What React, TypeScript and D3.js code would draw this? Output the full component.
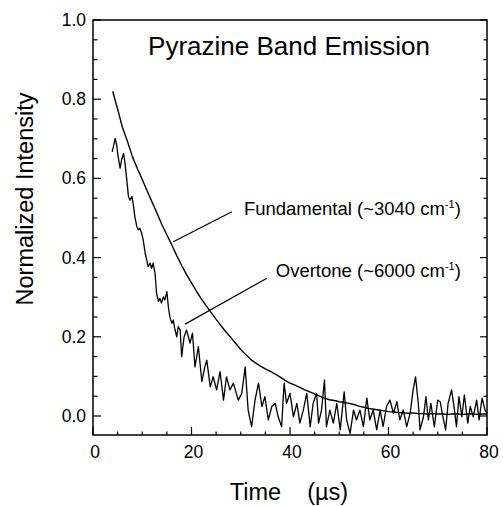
import * as d3 from 'd3'

// Fundamental (~3040 cm-1) decay, [time µs, normalized intensity]
const fundamental: [number, number][] = [
  [4, 0.82], [5, 0.775], [6, 0.728], [7, 0.693], [8, 0.655], [9, 0.625], [10, 0.597],
  [11, 0.568], [12, 0.54], [13, 0.512], [14, 0.483], [15, 0.457], [16, 0.432], [17, 0.405],
  [18, 0.38], [19, 0.357], [20, 0.336], [21, 0.315], [22, 0.296], [23, 0.278], [24, 0.261],
  [25, 0.244], [26, 0.228], [27, 0.212], [28, 0.198], [29, 0.183], [30, 0.168], [31, 0.155],
  [32, 0.143], [33, 0.134], [34, 0.126], [35, 0.119], [36, 0.113], [37, 0.106], [38, 0.098],
  [39, 0.09], [40, 0.083], [41, 0.078], [42, 0.072], [43, 0.066], [44, 0.061], [45, 0.056],
  [46, 0.05], [47, 0.045], [48, 0.041], [49, 0.039], [50, 0.036], [51, 0.034], [52, 0.032],
  [53, 0.029], [54, 0.025], [55, 0.022], [56, 0.019], [57, 0.017], [58, 0.015], [59, 0.013],
  [60, 0.011], [61, 0.01], [62, 0.009], [63, 0.008], [64, 0.007], [65, 0.008], [66, 0.006],
  [67, 0.006], [68, 0.005], [69, 0.006], [70, 0.005], [71, 0.005], [72, 0.004], [73, 0.005],
  [74, 0.005], [75, 0.004], [76, 0.005], [77, 0.005], [78, 0.004], [79, 0.005], [80, 0.005],
]

// Overtone (~6000 cm-1) decay, noisy trace
const overtone: [number, number][] = [
  [3.9, 0.667], [4.5, 0.701], [4.8, 0.684], [5.1, 0.655], [5.5, 0.626], [5.8, 0.646],
  [6.2, 0.663], [6.5, 0.638], [6.8, 0.604], [7.2, 0.554], [7.5, 0.545], [7.9, 0.554],
  [8.2, 0.533], [8.5, 0.503], [8.9, 0.478], [9.2, 0.47], [9.5, 0.474], [9.9, 0.461],
  [10.2, 0.444], [10.6, 0.411], [10.9, 0.394], [11.2, 0.377], [11.6, 0.386], [11.9, 0.373],
  [12.2, 0.386], [12.6, 0.36], [12.9, 0.31], [13.3, 0.289], [13.6, 0.297], [13.9, 0.285],
  [14.3, 0.301], [14.6, 0.293], [15.0, 0.314], [15.3, 0.276], [15.6, 0.251], [16.0, 0.234],
  [16.3, 0.242], [16.6, 0.221], [17.0, 0.2], [17.3, 0.226], [17.7, 0.217], [18.0, 0.15],
  [18.5, 0.2], [19.0, 0.217], [19.7, 0.184], [20.2, 0.209], [20.7, 0.124], [21.4, 0.175],
  [22.1, 0.087], [22.7, 0.124], [23.1, 0.141], [23.8, 0.074], [24.4, 0.099], [25.1, 0.066],
  [25.8, 0.112], [26.5, 0.04], [27.1, 0.099], [27.8, 0.066], [28.5, 0.083], [29.5, 0.04],
  [30.2, 0.057], [30.9, 0.124], [31.5, 0.015], [32.2, -0.027], [32.9, 0.04], [33.6, 0.083],
  [34.3, 0.024], [34.9, 0.049], [35.6, -0.01], [36.3, 0.024], [37.0, 0.032], [37.6, -0.002],
  [38.3, -0.027], [38.8, 0.083], [39.3, 0.032], [40.0, 0.057], [40.7, -0.002], [41.4, 0.032],
  [42.0, -0.018], [42.7, 0.015], [43.4, 0.057], [44.1, -0.027], [44.7, 0.032], [45.4, 0.057],
  [45.8, -0.018], [46.4, 0.015], [47.0, 0.091], [47.4, -0.027], [48.1, 0.015], [48.8, -0.018],
  [49.5, 0.032], [50.2, -0.035], [51.0, 0.061], [51.5, -0.01], [52.2, -0.044], [52.9, 0.015],
  [53.5, -0.01], [54.2, 0.015], [54.9, -0.027], [55.6, 0.045], [56.2, -0.01], [56.9, 0.015],
  [57.6, -0.035], [58.3, 0.015], [58.9, -0.027], [59.6, 0.024], [60.3, 0.04], [61.0, 0.007],
  [61.7, 0.036], [62.3, -0.01], [63.0, 0.015], [63.7, -0.027], [64.4, 0.007], [65.0, 0.066],
  [65.5, 0.099], [66.1, 0.024], [66.4, -0.035], [67.1, -0.002], [67.6, 0.049], [68.1, -0.01],
  [68.6, 0.032], [69.3, -0.027], [70.0, 0.04], [70.5, 0.036], [70.9, 0.007], [71.6, -0.035],
  [72.1, 0.032], [72.8, 0.066], [73.4, 0.015], [73.8, -0.027], [74.3, 0.049], [74.9, -0.002],
  [75.4, 0.053], [76.1, -0.018], [76.6, 0.024], [77.2, -0.002], [77.9, 0.04], [78.4, -0.01],
  [79.0, 0.045], [79.6, 0.015], [80.0, 0.007],
]

const xMajor = [0, 20, 40, 60, 80]
const xMinor = d3.range(0, 81, 5)
const yMajor = [0, 0.2, 0.4, 0.6, 0.8, 1.0]
const yMinor = d3.range(0, 1.001, 0.05)

const W = 503
const H = 506
const FONT = '"Liberation Sans", Arial, Helvetica, sans-serif'

export default function App() {
  const x = d3.scaleLinear().domain([0, 80]).range([93, 487])
  const y = d3.scaleLinear().domain([-0.048, 1.0]).range([435, 20])

  const line = d3.line<[number, number]>().x(d => x(d[0])).y(d => y(d[1]))

  const [x0, x1] = x.range()
  const [yb, yt] = y.range()

  return (
    <svg width={W} height={H} style={{ position: 'absolute', left: 0, top: 0, background: '#fff' }}
      fontFamily={FONT}>
      {/* curves */}
      <path d={line(fundamental) ?? ''} fill="none" stroke="#000" strokeWidth={1.4} strokeLinejoin="round" />
      <path d={line(overtone) ?? ''} fill="none" stroke="#000" strokeWidth={1.3} strokeLinejoin="round" />

      {/* frame */}
      <rect x={x0} y={yt} width={x1 - x0} height={yb - yt} fill="none" stroke="#000" strokeWidth={1.5} />

      {/* y ticks, left and right, pointing in */}
      {yMinor.map(v => {
        const major = yMajor.some(m => Math.abs(m - v) < 1e-6)
        return (
          <g key={'y' + v}>
            <line x1={x0} x2={x0 + (major ? 8 : 4.5)} y1={y(v)} y2={y(v)} stroke="#000" strokeWidth={1.2} />
            <line x1={x1} x2={x1 - (major ? 7 : 3.5)} y1={y(v)} y2={y(v)} stroke="#000" strokeWidth={1.2} />
          </g>
        )
      })}
      {yMajor.map(v => (
        <text key={'yl' + v} x={x0 - 7} y={y(v) + 6} textAnchor="end" fontSize={17.5}>
          {v.toFixed(1)}
        </text>
      ))}

      {/* x ticks, pointing up */}
      {xMinor.map(t => {
        const major = xMajor.includes(t)
        return <line key={'x' + t} x1={x(t)} x2={x(t)} y1={yb} y2={yb - (major ? 8 : 3.5)} stroke="#000" strokeWidth={1.2} />
      })}
      {xMajor.map(t => (
        <text key={'xl' + t} x={x(t) + 2} y={yb + 23} textAnchor="middle" fontSize={17.5}>
          {t}
        </text>
      ))}

      {/* title and axis titles */}
      <text x={289} y={55} textAnchor="middle" fontSize={26}>Pyrazine Band Emission</text>
      <text x={289} y={500} textAnchor="middle" fontSize={23.5} xmlSpace="preserve">Time    (µs)</text>
      <text transform={`translate(33,${(yt + 305 + 93 - yt) / 2 + 0}) rotate(-90)`} textAnchor="middle" fontSize={23.5}>
        Normalized Intensity
      </text>

      {/* annotations */}
      <line x1={x(28.2)} y1={y(0.516)} x2={x(16.3)} y2={y(0.44)} stroke="#000" strokeWidth={1.2} />
      <text x={x(74.7)} y={y(0.508)} textAnchor="end" fontSize={18.5}>
        Fundamental (~3040 cm<tspan fontSize={11} dy={-7}>-1</tspan><tspan dy={7}>)</tspan>
      </text>
      <line x1={x(35.3)} y1={y(0.348)} x2={x(18.7)} y2={y(0.232)} stroke="#000" strokeWidth={1.2} />
      <text x={x(74.7)} y={y(0.351)} textAnchor="end" fontSize={18.5}>
        Overtone (~6000 cm<tspan fontSize={11} dy={-7}>-1</tspan><tspan dy={7}>)</tspan>
      </text>
    </svg>
  )
}
